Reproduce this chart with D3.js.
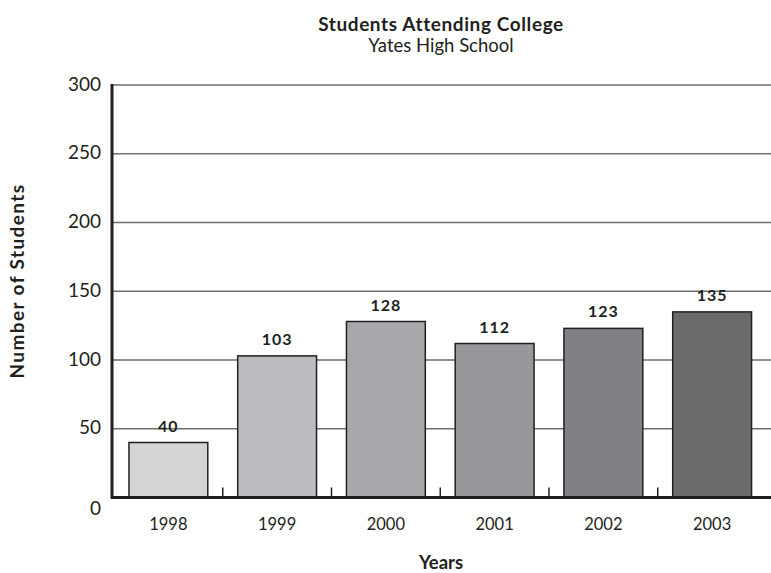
<!DOCTYPE html>
<html>
<head>
<meta charset="utf-8">
<script src="https://cdn.jsdelivr.net/npm/d3@7"></script>
<style>
  body { margin: 0; background: #fff; }
  svg { font-family: "Lato", "Open Sans", sans-serif; }
</style>
</head>
<body>
<div id="chart"></div>
<script>
// data
const years = ["1998", "1999", "2000", "2001", "2002", "2003"];
const students = [40, 103, 128, 112, 123, 135];
const barColors = ["#d3d4d6", "#bbbcbf", "#a7a8ab", "#97989b", "#808184", "#6a6b6d"];
const yTicks = [0, 50, 100, 150, 200, 250, 300];

const width = 771;
const height = 573;

const svg = d3.select("#chart").append("svg")
  .attr("width", width)
  .attr("height", height);

const x = d3.scaleBand()
  .domain(years)
  .range([114, 766.5])
  .padding(0);

const y = d3.scaleLinear()
  .domain([0, 300])
  .range([497.5, 85]);

const barW = x.bandwidth() * 0.725;

// gridlines
svg.append("g")
  .selectAll("line")
  .data(yTicks.filter(d => d > 0))
  .join("line")
  .attr("x1", 112)
  .attr("x2", 771)
  .attr("y1", d => y(d))
  .attr("y2", d => y(d))
  .attr("stroke", "#6d6e70")
  .attr("stroke-width", 1.5);

// y tick labels
svg.append("g")
  .selectAll("text")
  .data(yTicks)
  .join("text")
  .attr("x", 101)
  .attr("y", d => y(d) + (d === 0 ? 11 : -1))
  .attr("dy", "0.35em")
  .attr("text-anchor", "end")
  .attr("font-size", 19)
  .attr("fill", "#231f20")
  .text(d => d);

// bars
svg.append("g")
  .selectAll("rect")
  .data(students)
  .join("rect")
  .attr("x", (d, i) => x(years[i]) + (x.bandwidth() - barW) / 2)
  .attr("y", d => y(d))
  .attr("width", barW)
  .attr("height", d => y(0) - y(d))
  .attr("fill", (d, i) => barColors[i])
  .attr("stroke", "#231f20")
  .attr("stroke-width", 1.5);

// value labels
svg.append("g")
  .selectAll("text")
  .data(students)
  .join("text")
  .attr("x", (d, i) => x(years[i]) + x.bandwidth() / 2)
  .attr("y", d => y(d) - 11)
  .attr("text-anchor", "middle")
  .attr("font-size", 16)
  .attr("font-weight", "bold")
  .attr("letter-spacing", "1px")
  .attr("fill", "#231f20")
  .text(d => d);

// x ticks between bands
svg.append("g")
  .selectAll("line")
  .data(years.slice(1))
  .join("line")
  .attr("x1", d => x(d))
  .attr("x2", d => x(d))
  .attr("y1", y(0))
  .attr("y2", y(0) - 10)
  .attr("stroke", "#231f20")
  .attr("stroke-width", 1.5);

// axes lines
svg.append("line")
  .attr("x1", 111)
  .attr("x2", 771)
  .attr("y1", y(0))
  .attr("y2", y(0))
  .attr("stroke", "#231f20")
  .attr("stroke-width", 3);

svg.append("line")
  .attr("x1", 112)
  .attr("x2", 112)
  .attr("y1", y(300) - 1)
  .attr("y2", y(0) + 1)
  .attr("stroke", "#231f20")
  .attr("stroke-width", 3);

// x labels
svg.append("g")
  .selectAll("text")
  .data(years)
  .join("text")
  .attr("x", d => x(d) + x.bandwidth() / 2)
  .attr("y", 530)
  .attr("text-anchor", "middle")
  .attr("font-size", 16.5)
  .attr("fill", "#231f20")
  .text(d => d);

// titles
svg.append("text")
  .attr("x", 441)
  .attr("y", 31)
  .attr("text-anchor", "middle")
  .attr("font-size", 19)
  .attr("font-weight", "bold")
  .attr("letter-spacing", "0.6px")
  .attr("fill", "#231f20")
  .text("Students Attending College");

svg.append("text")
  .attr("x", 441)
  .attr("y", 52)
  .attr("text-anchor", "middle")
  .attr("font-size", 18.5)
  .attr("fill", "#231f20")
  .text("Yates High School");

svg.append("text")
  .attr("x", 441)
  .attr("y", 569)
  .attr("text-anchor", "middle")
  .attr("font-size", 18.5)
  .attr("font-weight", "bold")
  .attr("fill", "#231f20")
  .text("Years");

svg.append("text")
  .attr("transform", "translate(24,281) rotate(-90)")
  .attr("text-anchor", "middle")
  .attr("font-size", 19)
  .attr("font-weight", "bold")
  .attr("letter-spacing", "1.4px")
  .attr("fill", "#231f20")
  .text("Number of Students");
</script>
</body>
</html>
